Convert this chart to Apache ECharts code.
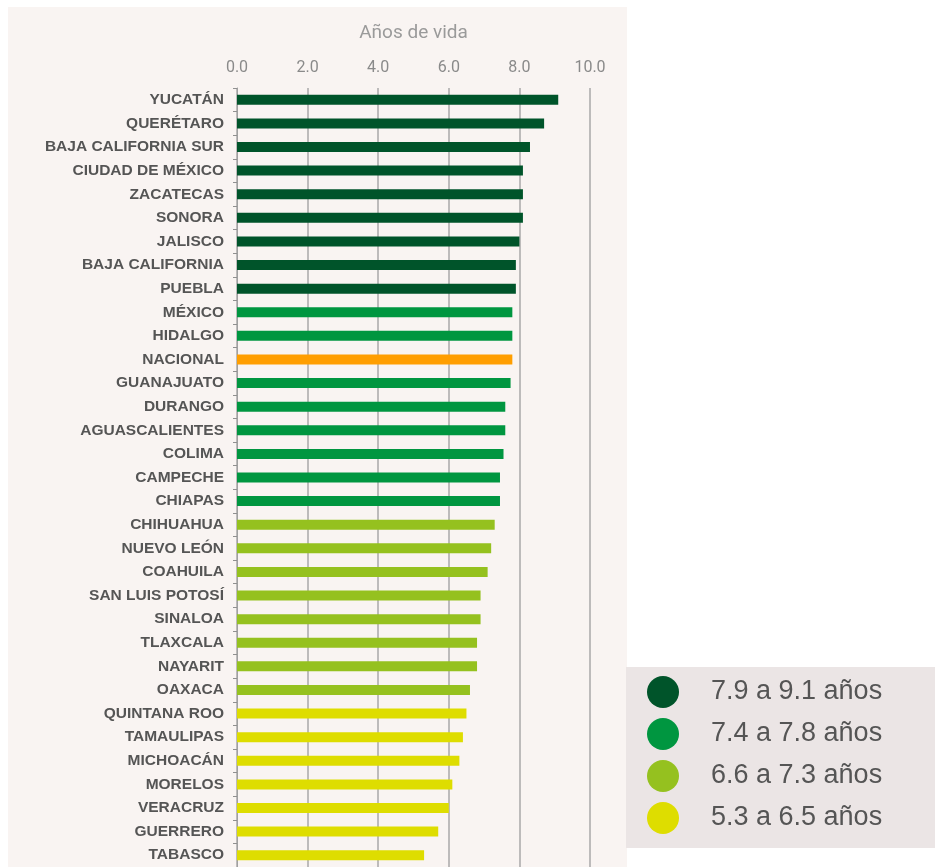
<!DOCTYPE html>
<html>
<head>
<meta charset="utf-8">
<script src="https://cdn.jsdelivr.net/npm/echarts@6/dist/echarts.min.js"></script>
<style>html,body{margin:0;padding:0;background:#fff}#c{width:935px;height:867px}</style>
</head>
<body>
<div id="c"></div>
<script>
const categories = ["YUCATÁN","QUERÉTARO","BAJA CALIFORNIA SUR","CIUDAD DE MÉXICO","ZACATECAS","SONORA","JALISCO","BAJA CALIFORNIA","PUEBLA","MÉXICO","HIDALGO","NACIONAL","GUANAJUATO","DURANGO","AGUASCALIENTES","COLIMA","CAMPECHE","CHIAPAS","CHIHUAHUA","NUEVO LEÓN","COAHUILA","SAN LUIS POTOSÍ","SINALOA","TLAXCALA","NAYARIT","OAXACA","QUINTANA ROO","TAMAULIPAS","MICHOACÁN","MORELOS","VERACRUZ","GUERRERO","TABASCO"];
const values = [9.1,8.7,8.3,8.1,8.1,8.1,8.0,7.9,7.9,7.8,7.8,7.8,7.75,7.6,7.6,7.55,7.45,7.45,7.3,7.2,7.1,6.9,6.9,6.8,6.8,6.6,6.5,6.4,6.3,6.1,6.0,5.7,5.3];
const groupOf = ["g1","g1","g1","g1","g1","g1","g1","g1","g1","g2","g2","nac","g2","g2","g2","g2","g2","g2","g3","g3","g3","g3","g3","g3","g3","g3","g4","g4","g4","g4","g4","g4","g4"];
const groupNames = {g1:"7.9 a 9.1 años", g2:"7.4 a 7.8 años", g3:"6.6 a 7.3 años", g4:"5.3 a 6.5 años", nac:"Nacional"};
const groupColors = {g1:"#00542a", g2:"#009640", g3:"#95c11f", g4:"#dedd00", nac:"#ff9e00"};
const ticks = [0,2,4,6,8,10];

const chart = echarts.init(document.getElementById('c'));
const keys = ["g1","g2","g3","g4","nac"];
const series = keys.map(k => ({
  name: groupNames[k],
  type: 'bar',
  stack: 'all',
  barWidth: 10,
  itemStyle: {color: groupColors[k]},
  data: values.map((v,i) => groupOf[i] === k ? v : null),
  silent: true
}));

chart.setOption({
  backgroundColor: '#ffffff',
  animation: false,
  graphic: [
    {type:'rect', shape:{x:8, y:7, width:619, height:860}, style:{fill:'#f9f4f2'}, z:-10, silent:true},
    {type:'rect', shape:{x:626, y:667, width:309, height:181}, style:{fill:'#ebe5e5'}, z:-10, silent:true}
  ],
  legend: {
    data: ["g1","g2","g3","g4"].map(k => groupNames[k]),
    orient: 'vertical',
    left: 647, top: 676,
    padding: 0,
    icon: 'circle',
    itemWidth: 32, itemHeight: 32,
    itemGap: 10,
    selectedMode: false,
    textStyle: {fontSize: 27, color: '#555555', fontFamily: 'Liberation Sans, Arial, sans-serif', padding:[0,0,0,27]}
  },
  grid: {left: 237, right: 345, top: 88, bottom: 0, containLabel: false},
  xAxis: {
    type: 'value', position: 'top', min: 0, max: 10, interval: 2,
    name: 'Años de vida', nameLocation: 'middle', nameGap: 45,
    nameTextStyle: {color: '#9a9a9a', fontSize: 19, fontFamily: 'Liberation Sans Narrow, Roboto, sans-serif'},
    axisLine: {show: false}, axisTick: {show: false},
    axisLabel: {color: '#8a8a8a', fontSize: 16, margin: 12, fontFamily: 'Liberation Sans Narrow, Roboto, sans-serif',
      formatter: v => v.toFixed(1)},
    splitLine: {show: true, lineStyle: {color: '#a8a8a8', width: 1.5}}
  },
  yAxis: {
    type: 'category', inverse: true, data: categories,
    axisLine: {show: true, lineStyle: {color: '#a0a0a0', width: 1}},
    axisTick: {show: true, length: 4, inside: false, lineStyle: {color: '#909090'}},
    axisLabel: {color: '#555555', fontSize: 15.5, fontWeight: 'bold', margin: 13, fontFamily: 'Liberation Sans, Arial, sans-serif'}
  },
  series: series
});
</script>
</body>
</html>
